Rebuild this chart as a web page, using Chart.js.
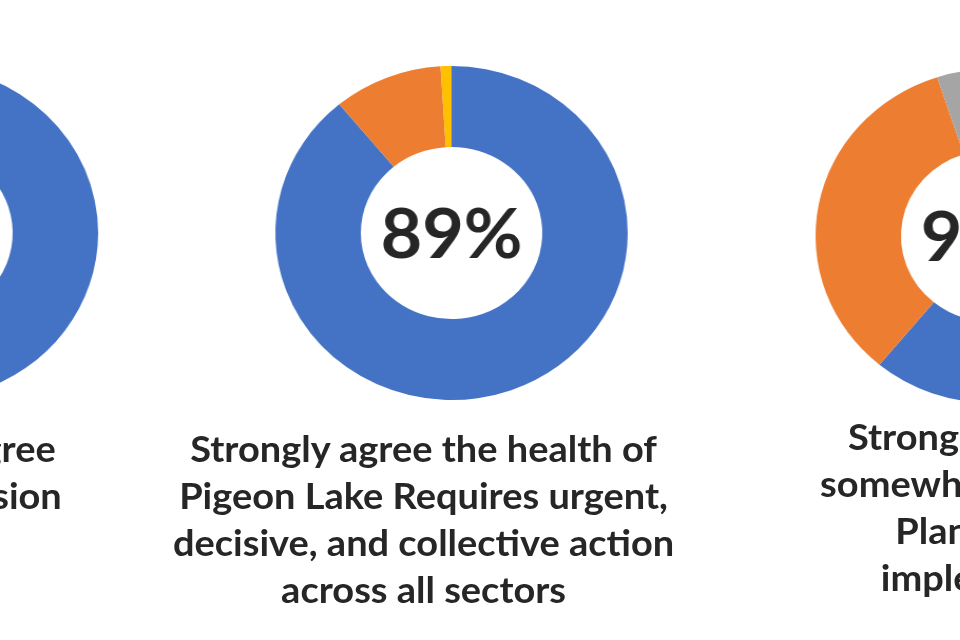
<!DOCTYPE html>
<html>
<head>
<meta charset="utf-8">
<script src="https://cdn.jsdelivr.net/npm/chart.js@4.4.1/dist/chart.umd.min.js"></script>
<style>
  html, body { margin: 0; padding: 0; background: #ffffff; width: 960px; height: 640px; overflow: hidden; }
  #wrap { position: absolute; left: 0; top: 0; width: 910px; height: 640px; transform: scaleX(1.055); transform-origin: 0 0; }
  canvas { position: absolute; top: 0; }
  .cap { position: absolute; width: 600px; text-align: center; white-space: nowrap;
         font-family: Lato, "Open Sans", sans-serif; font-weight: bold; font-size: 36px;
         line-height: 47px; color: #262626; }
</style>
</head>
<body>
<div id="wrap">
  <canvas id="c1" width="400" height="640"></canvas>
  <canvas id="c2" width="400" height="640"></canvas>
  <canvas id="c3" width="400" height="640"></canvas>
</div>
<script>
// ---- data ----
const categories = ['Strongly agree', 'Somewhat agree', 'Neutral', 'Disagree'];
const leftValues   = [90, 7, 3, 0];
const centerValues = [89, 10, 0, 1];
const rightValues  = [61, 34, 5, 0];
const centerLabels = ['90%', '89%', '95%'];
const leftCaption   = ['Strongly agree', 'with this vision'];
const centerCaption = ['Strongly agree the health of', 'Pigeon Lake Requires urgent,', 'decisive, and collective action', 'across all sectors'];
const rightCaption  = ['Strongly agree or', 'somewhat agree the', 'Plan can be', 'implemented'];

// ---- style ----
const colors = ['#4472C4', '#ED7D31', '#A5A5A5', '#FFC000'];
const textColor = '#262626';
const FONT = 'Lato, "Open Sans", sans-serif';

const centerText = {
  id: 'centerText',
  afterDatasetsDraw(chart, args, opts) {
    const arc = chart.getDatasetMeta(0).data[0];
    if (!arc) return;
    const ctx = chart.ctx;
    ctx.save();
    ctx.font = 'bold ' + opts.size + 'px ' + FONT;
    ctx.fillStyle = textColor;
    ctx.textAlign = 'center';
    ctx.textBaseline = 'alphabetic';
    const m = ctx.measureText(opts.text);
    const y = arc.y + (m.actualBoundingBoxAscent - m.actualBoundingBoxDescent) / 2;
    ctx.fillText(opts.text, arc.x, y);
    ctx.restore();
  }
};

function makeDonut(id, cx, cy, values, label, caption, capDx, capY) {
  const el = document.getElementById(id);
  const W = el.width, H = el.height;
  el.style.left = (cx - W / 2) + 'px';
  const R = 167;
  new Chart(el, {
    type: 'doughnut',
    data: {
      labels: categories,
      datasets: [{ data: values, backgroundColor: colors, borderWidth: 0, hoverOffset: 0 }]
    },
    options: {
      responsive: false,
      maintainAspectRatio: false,
      animation: false,
      cutout: '51.5%',
      layout: { padding: { top: cy - R, bottom: H - (cy + R), left: 0, right: 0 } },
      plugins: {
        legend: { display: false },
        tooltip: { enabled: false },
        title: { display: false },
        centerText: { text: label, size: 68 }
      }
    },
    plugins: [centerText]
  });
  const cap = document.createElement('div');
  cap.className = 'cap';
  cap.style.left = (cx + capDx - 300) + 'px';
  cap.style.top = (capY - 23.5) + 'px';
  cap.innerHTML = caption.map(s => s.replace(/&/g, '&amp;').replace(/</g, '&lt;')).join('<br>');
  document.getElementById('wrap').appendChild(cap);
}

makeDonut('c1', -74, 233, leftValues, centerLabels[0], leftCaption, 12, 448);
makeDonut('c2', 427.5, 233, centerValues, centerLabels[1], centerCaption, -26, 448);
makeDonut('c3', 940, 236, rightValues, centerLabels[2], rightCaption, 0, 436);
</script>
</body>
</html>
